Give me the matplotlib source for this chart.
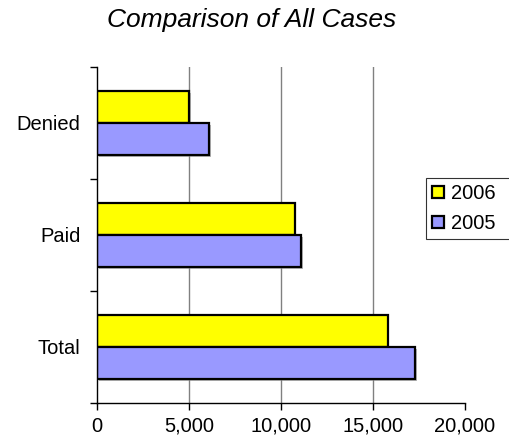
#!/bin/env python3

#!> Import libraries
import matplotlib
matplotlib.use("Agg")
import matplotlib.pyplot as plt
import matplotlib.patheffects as pe
from matplotlib.patches import Patch
from matplotlib.ticker import FuncFormatter
import numpy as np


# *** DATA
CATEGORIES = ["Total", "Paid", "Denied"]       # bottom to top
SERIES = ["2006", "2005"]
VALUES_2006 = [15800, 10750, 5000]
VALUES_2005 = [17300, 11100, 6100]
X_TICKS = [0, 5000, 10000, 15000, 20000]

# *** STYLE
COLOR_2006 = "#FFFF00"
COLOR_2005 = "#9999FF"
FONT = "Liberation Sans"
BAR_H = 0.285


def draw_chart():
  plt.rcParams["font.family"] = [FONT, "DejaVu Sans"]
  fig = plt.figure(figsize=(5.09, 4.45), dpi=100)
  ax = fig.add_axes([97 / 509, 42 / 445, 368 / 509, 336 / 445])

  y = np.arange(len(CATEGORIES))
  shadow = [pe.SimplePatchShadow(offset=(1.2, -1.2), shadow_rgbFace="#888888", alpha=0.6), pe.Normal()]
  ax.barh(y + BAR_H / 2, VALUES_2006, height=BAR_H, color=COLOR_2006,
          edgecolor="black", linewidth=1.6, zorder=3, path_effects=shadow)
  ax.barh(y - BAR_H / 2, VALUES_2005, height=BAR_H, color=COLOR_2005,
          edgecolor="black", linewidth=1.6, zorder=3, path_effects=shadow)

  # axes limits and spines
  ax.set_xlim(X_TICKS[0], X_TICKS[-1])
  ax.set_ylim(-0.5, len(CATEGORIES) - 0.5)
  for side in ["top", "right"]:
    ax.spines[side].set_visible(False)
  for side in ["left", "bottom"]:
    ax.spines[side].set_linewidth(1.0)
    ax.spines[side].set_zorder(4)

  # x ticks and gridlines
  ax.set_xticks(X_TICKS)
  ax.xaxis.set_major_formatter(FuncFormatter(lambda v, p: f"{int(v):,}"))
  ax.tick_params(axis="x", direction="out", length=5, width=1.0, labelsize=14.5, pad=5)
  for v in X_TICKS[1:-1]:
    ax.axvline(v, color="#808080", linewidth=1.0, zorder=1)

  # y ticks at boundaries, labels at centres
  ax.set_yticks(np.arange(-0.5, len(CATEGORIES), 1.0))
  ax.set_yticklabels([])
  ax.set_yticks(y, minor=True)
  ax.set_yticklabels(CATEGORIES, minor=True)
  ax.tick_params(axis="y", which="major", direction="out", length=5, width=1.0)
  ax.tick_params(axis="y", which="minor", length=0, labelsize=14.5, pad=12)

  # title
  fig.text(252 / 509, 1 - 20 / 445, "Comparison of All Cases", fontsize=19,
           style="italic", ha="center", va="center")

  # legend (frame runs off the right edge, as in the original)
  handles = [Patch(facecolor=COLOR_2006, edgecolor="black", linewidth=1.6),
             Patch(facecolor=COLOR_2005, edgecolor="black", linewidth=1.6)]
  leg = fig.legend(handles, SERIES, loc="upper left",
                   bbox_to_anchor=(426 / 509, 1 - 178 / 445, 0.2, 0), mode="expand",
                   fontsize=14.5, frameon=True, fancybox=False, borderpad=0.3,
                   handlelength=0.6, handleheight=0.6, handletextpad=0.35,
                   labelspacing=0.55, borderaxespad=0)
  leg.get_frame().set_edgecolor("black")
  leg.get_frame().set_linewidth(0.8)

  fig.savefig("out.png", dpi=100)


def main():
  draw_chart()


if __name__ == "__main__":
  main()
